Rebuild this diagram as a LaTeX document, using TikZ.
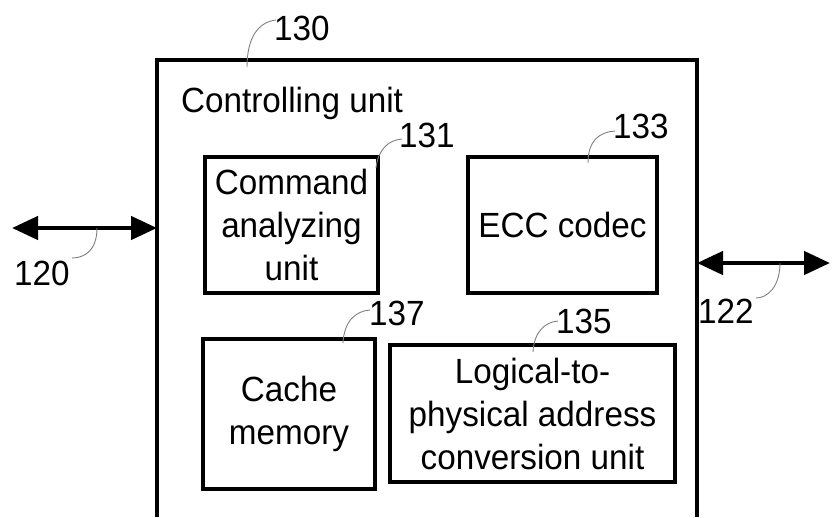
\documentclass[tikz,border=0pt]{standalone}
\usepackage{fontspec}
\setmainfont[FakeStretch=0.95]{Liberation Sans}
\usetikzlibrary{arrows.meta}
\begin{document}
\begin{tikzpicture}[x=1pt,y=-1pt,
  txt/.style={font=\fontsize{35}{43}\selectfont, align=center, inner sep=0pt},
  unitbox/.style={draw, line width=3.5pt, txt},
  lbl/.style={font=\fontsize{35}{40}\selectfont, inner sep=0pt, anchor=base west},
  leader/.style={draw=gray, line width=0.9pt},
  bus/.style={line width=4.5pt, {Triangle[length=26pt,width=23pt]}-{Triangle[length=26pt,width=23pt]}}]
\useasboundingbox (0,0) rectangle (833,517);
\clip (0,0) rectangle (833,517);
% outer controlling unit box (open at the bottom)
\coordinate (obl) at (157,517);
\coordinate (otl) at (157,60);
\coordinate (otr) at (697,60);
\coordinate (obr) at (697,517);
\draw[line width=3.5pt] (obl) -- (otl) -- (otr) -- (obr);
\node[lbl] (ctl) at (181,112) {Controlling unit};
% inner units
\node[unitbox, minimum width=173pt, minimum height=136pt] (cmd) at (291.5,225) {Command\\analyzing\\unit};
\node[unitbox, minimum width=189pt, minimum height=136pt] (ecc) at (562.5,225) {ECC codec};
\node[unitbox, minimum width=172pt, minimum height=150pt] (cache) at (289,414) {Cache\\memory};
\node[unitbox, minimum width=285pt, minimum height=137pt] (l2p) at (532.5,413.5) {Logical-to-\\physical address\\conversion unit};
% buses
\coordinate (lend) at (12,228);
\coordinate (lbox) at (157,228);
\coordinate (rbox) at (697,263);
\coordinate (rend) at (830,263);
\draw[bus] (lend) -- (lbox);
\draw[bus] (rbox) -- (rend);
% reference numerals
\node[lbl] (n130) at (274,40) {130};
\node[lbl] (n131) at (399,147) {131};
\node[lbl] (n133) at (613,138) {133};
\node[lbl] (n137) at (369,325) {137};
\node[lbl] (n135) at (556,333) {135};
\node[lbl] (n120) at (14,285) {120};
\node[lbl] (n122) at (698,323) {122};
% leaders
\draw[leader] (247,67) .. controls (247,38) and (258,22) .. (276,20);
\draw[leader] (376,168) .. controls (378,150) and (388,140) .. (402,139);
\draw[leader] (588,163) .. controls (588,140) and (600,132) .. (615,131);
\draw[leader] (343,343) .. controls (344,322) and (355,311) .. (370,310);
\draw[leader] (533,352) .. controls (534,332) and (545,322) .. (558,321);
\draw[leader] (97,228) .. controls (97,250) and (85,258) .. (72,258);
\draw[leader] (780,263) .. controls (780,286) and (768,298) .. (756,298);
\end{tikzpicture}
\end{document}
